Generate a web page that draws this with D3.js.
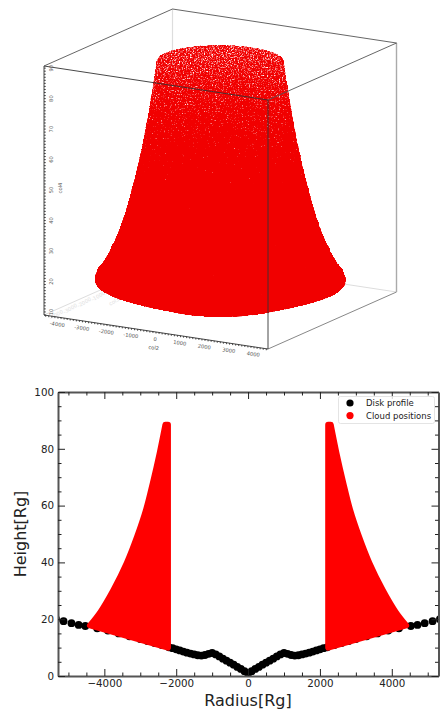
<!DOCTYPE html>
<html lang="en">
<head>
<meta charset="UTF-8">
<title>Disk profile and cloud positions</title>
<script src="https://d3js.org/d3.v7.min.js"></script>
<style>
    html, body { margin: 0; padding: 0; background: #fff; }
    svg { display: block; }
    text { font-family: "DejaVu Sans", sans-serif; }
</style>
</head>
<body>
<script>
// disk profile (drawn on both sides of 0)
var diskRadius = [0, 100, 200, 300, 400, 500, 600, 700, 800, 900, 1000, 1100, 1200, 1300, 1400, 1500, 1600, 1700, 1800, 1900, 2000, 2100, 2200, 2400, 2600, 2800, 3000, 3300, 3600, 3900, 4200, 4530, 4715, 4915, 5135, 5340];
var diskHeight = [1, 1.7, 2.5, 3.2, 4, 4.7, 5.4, 6.1, 6.9, 7.6, 8.1, 7.8, 7.4, 7.2, 7.3, 7.6, 7.9, 8.2, 8.6, 9, 9.4, 9.8, 10.1, 10.9, 11.6, 12.3, 13, 14, 15, 16, 16.8, 17.6, 18, 18.6, 19.3, 20];

// cloud lobe in the lower panel: straight inner edge, curved outer edge (marker centres)
var innerRadius = [2230, 2230];
var innerHeight = [10, 88.5];
var outerRadius = [2300, 2460, 2650, 2840, 3090, 3375, 3745, 4110, 4400];
var outerHeight = [88.5, 78.5, 68, 58.5, 49, 39.8, 30.3, 22.5, 17.8];

// cloud seen from the 3d view: outer edge and the lower edge
var topRadius = [2257, 2377, 2612, 2847, 3140, 3494, 3890, 4380, 4440];
var topHeight = [88.5, 81, 68, 57, 46, 35, 26.4, 18.8, 17.2];
var lowRadius = [4440, 4000, 3500, 3000, 2500];
var lowHeight = [16.5, 15, 13.5, 12, 10.5];

var col2Ticks = [-4000, -3000, -2000, -1000, 0, 1000, 2000, 3000, 4000];
var col3Ticks = [-4000, -3000, -2000, -1000];
var col4Ticks = [10, 20, 30, 40, 50, 60, 70, 80, 90];
var radiusTicks = [-4000, -2000, 0, 2000, 4000];
var heightTicks = [0, 20, 40, 60, 80, 100];
var legendLabels = ["Disk profile", "Cloud positions"];
var legendColors = ["#000000", "#ff0000"];

var w = 441, h = 711;
var svg = d3.select("body").append("svg").attr("width", w).attr("height", h);
var defs = svg.append("defs");

// ---------- top panel, 3d box ----------
var uScale = d3.scaleLinear().domain([-4570, 4570]).range([0, 1]);
var vScale = d3.scaleLinear().domain([-4570, 4570]).range([0, 1]);
var zScale = d3.scaleLinear().domain([9, 90.7]).range([0, 1]);

function project(x, y, z) {
    var u = uScale(x), v = vScale(y), t = zScale(z);
    return [44 + u * 224 + v * 128.5, 315 + u * 34 - v * 57 - t * 249];
}
function corner(i, j, k) {
    return project(i ? 4570 : -4570, j ? 4570 : -4570, k ? 90.7 : 9);
}
function edge(group, a, b, color, width) {
    group.append("line")
        .attr("x1", a[0]).attr("y1", a[1])
        .attr("x2", b[0]).attr("y2", b[1])
        .attr("stroke", color).attr("stroke-width", width);
}

var back = svg.append("g");
edge(back, corner(0, 0, 0), corner(0, 1, 0), "#dddddd", 1);
edge(back, corner(0, 1, 0), corner(1, 1, 0), "#dddddd", 1);
edge(back, corner(1, 0, 0), corner(1, 1, 0), "#888888", 1);
edge(back, corner(0, 1, 0), corner(0, 1, 1), "#dddddd", 1.2);
edge(back, corner(1, 1, 0), corner(1, 1, 1), "#aaaaaa", 1.4);

col3Ticks.forEach(function(d) {
    var p = project(-4570, d, 9);
    back.append("text").attr("transform", "translate(" + (p[0] + 5) + "," + (p[1] + 5) + ") rotate(-30)")
        .attr("font-size", 5.2).attr("fill", "#dedede").attr("text-anchor", "middle").text(d);
});
back.append("text").attr("transform", "translate(115,303) rotate(-30)")
    .attr("font-size", 5.2).attr("fill", "#dedede").attr("text-anchor", "middle").text("col3");

// density of the cloud falls with height, so the top of it looks speckled
var fade = defs.append("linearGradient").attr("id", "fade")
    .attr("gradientUnits", "userSpaceOnUse").attr("x1", 0).attr("x2", 0).attr("y1", 40).attr("y2", 200);
[[0, "#929292"], [0.15, "#9e9e9e"], [0.4, "#b8b8b8"], [0.65, "#d4d4d4"], [1, "#ffffff"]].forEach(function(s) {
    fade.append("stop").attr("offset", s[0]).attr("stop-color", s[1]);
});
defs.append("mask").attr("id", "fadeMask").attr("maskUnits", "userSpaceOnUse")
    .attr("x", 0).attr("y", 0).attr("width", w).attr("height", 380)
    .append("rect").attr("width", w).attr("height", 380).attr("fill", "url(#fade)");

var grain = defs.append("filter").attr("id", "grain").attr("filterUnits", "userSpaceOnUse")
    .attr("x", 0).attr("y", 0).attr("width", w).attr("height", 380)
    .attr("color-interpolation-filters", "sRGB");
grain.append("feTurbulence").attr("type", "fractalNoise").attr("baseFrequency", 0.73).attr("numOctaves", 3).attr("seed", 4).attr("result", "noise");
grain.append("feColorMatrix").attr("in", "noise").attr("type", "matrix")
    .attr("values", "0 0 0 0 0  0 0 0 0 0  0 0 0 0 0  1 0 0 0 0").attr("result", "noiseA");
grain.append("feComposite").attr("in", "SourceAlpha").attr("in2", "noiseA").attr("operator", "arithmetic")
    .attr("k1", 0).attr("k2", 3.2).attr("k3", 3.2).attr("k4", -2.6).attr("result", "speckle");
// keep the speckle inside the shape
var gate = grain.append("feComponentTransfer").attr("in", "SourceAlpha").attr("result", "gate");
gate.append("feFuncA").attr("type", "linear").attr("slope", 3);
grain.append("feComposite").attr("in", "speckle").attr("in2", "gate").attr("operator", "in").attr("result", "mask");
grain.append("feFlood").attr("flood-color", "#f10000").attr("result", "red");
grain.append("feComposite").attr("in", "red").attr("in2", "mask").attr("operator", "in");

var angles = d3.range(0, 361, 6).map(function(a) { return a * Math.PI / 180; });
function ellipse(r, z) {
    return angles.map(function(a) { return project(r * Math.cos(a), r * Math.sin(a), z); });
}
function tangent(r, z, sign) {
    // widest point of the projected circle
    var ax = 224 / 9140, bx = 128.5 / 9140, n = Math.sqrt(ax * ax + bx * bx);
    return project(sign * r * ax / n, sign * r * bx / n, z);
}

var cloud3d = svg.append("g").attr("filter", "url(#grain)")
    .append("g").attr("mask", "url(#fadeMask)");
var ringLine = d3.line();
var sideLine = d3.line().curve(d3.curveCatmullRom);

var hull = topRadius.map(function(r, i) { return tangent(r, topHeight[i], -1); });
var hullBack = topRadius.map(function(r, i) { return tangent(r, topHeight[i], 1); }).reverse();
cloud3d.append("path").attr("d", sideLine(hull) + "L" + hullBack[0].join(",") + sideLine(hullBack).slice(1) + "Z").attr("fill", "#fff");

cloud3d.selectAll("path.ring")
    .data(topRadius.map(function(r, i) { return [r, topHeight[i]]; })
        .concat(lowRadius.map(function(r, i) { return [r, lowHeight[i]]; })))
    .enter().append("path").attr("class", "ring")
    .attr("d", function(d) { return ringLine(ellipse(d[0], d[1])) + "Z"; })
    .attr("fill", "#fff");

var front = svg.append("g");
edge(front, corner(0, 0, 1), corner(1, 0, 1), "#333333", 0.9);
edge(front, corner(1, 0, 1), corner(1, 1, 1), "#555555", 0.9);
edge(front, corner(0, 0, 1), corner(0, 1, 1), "#555555", 0.9);
edge(front, corner(0, 1, 1), corner(1, 1, 1), "#555555", 0.9);
edge(front, corner(1, 0, 1), corner(1, 0, 0), "#333333", 0.9);
edge(front, corner(0, 0, 0), corner(1, 0, 0), "#333333", 0.9);
edge(front, corner(0, 0, 0), corner(0, 0, 1), "#333333", 0.9);

// dotted ticks on the two drawn axes
d3.range(-4500, 4501, 125).forEach(function(d) {
    var p = project(d, -4570, 9);
    edge(front, p, [p[0], p[1] + 1.5], "#222222", 0.8);
});
d3.range(9, 91).forEach(function(d) {
    var p = project(-4570, -4570, d);
    edge(front, p, [p[0] + 1.8, p[1]], "#222222", 0.8);
});

col2Ticks.forEach(function(d) {
    var p = project(d, -4570, 9);
    front.append("text").attr("transform", "translate(" + (p[0] - 1) + "," + (p[1] + 9) + ") rotate(8)")
        .attr("font-size", 5.2).attr("fill", "#555").attr("text-anchor", "middle").text(d);
});
col4Ticks.forEach(function(d) {
    var p = project(-4570, -4570, d);
    front.append("text").attr("transform", "translate(" + (p[0] + 9) + "," + p[1] + ") rotate(-90)")
        .attr("font-size", 5.2).attr("fill", "#555").attr("text-anchor", "middle").text(d);
});
front.append("text").attr("x", 153.5).attr("y", 349.5).attr("transform", "rotate(5 153.5 349.5)")
    .attr("font-size", 5.2).attr("fill", "#555").attr("text-anchor", "middle").text("col2");
front.append("text").attr("transform", "translate(62,188) rotate(-90)")
    .attr("font-size", 5.2).attr("fill", "#555").attr("text-anchor", "middle").text("col4");

// ---------- bottom panel ----------
var margin = { left: 58, right: 438.5, top: 392, bottom: 676 };
var x = d3.scaleLinear().domain([-5290, 5300]).range([margin.left, margin.right]);
var y = d3.scaleLinear().domain([0, 100]).range([margin.bottom, margin.top]);

defs.append("clipPath").attr("id", "plotClip").append("rect")
    .attr("x", margin.left).attr("y", margin.top)
    .attr("width", margin.right - margin.left).attr("height", margin.bottom - margin.top);

var plot = svg.append("g").attr("clip-path", "url(#plotClip)");

[-1, 1].forEach(function(side) {
    plot.append("g").selectAll("circle")
        .data(diskRadius)
        .enter().append("circle")
        .attr("cx", function(d) { return x(side * d); })
        .attr("cy", function(d, i) { return y(diskHeight[i]); })
        .attr("r", 3.9)
        .attr("fill", legendColors[0]);
});

[-1, 1].forEach(function(side) {
    var inner = innerRadius.map(function(r, i) { return [x(side * r), y(innerHeight[i])]; });
    var outer = outerRadius.map(function(r, i) { return [x(side * r), y(outerHeight[i])]; });
    plot.append("path")
        .attr("d", d3.line()(inner) + "L" + sideLine(outer).slice(1) + "Z")
        .attr("fill", legendColors[1])
        .attr("stroke", legendColors[1])
        .attr("stroke-width", 6)
        .attr("stroke-linejoin", "round");
});

var minorX = d3.range(-5000, 5001, 500).filter(function(d) { return d % 2000 !== 0; });
var minorY = d3.range(0, 101, 5).filter(function(d) { return d % 20 !== 0; });

function styleAxis(g) {
    g.select(".domain").attr("stroke", "#555").attr("stroke-width", 2);
    g.selectAll(".tick line").attr("stroke", "#222").attr("stroke-width", 1);
    g.selectAll("text").attr("font-family", "DejaVu Sans").attr("font-size", 10.3).attr("fill", "#222");
}
function addAxis(axis, tx, ty, major, minor, labels) {
    var g = svg.append("g").attr("transform", "translate(" + tx + "," + ty + ")");
    g.call(axis.tickValues(major).tickSizeOuter(0).tickSizeInner(-7).tickPadding(4)
        .tickFormat(labels ? d3.format("") : ""));
    styleAxis(g);
    var m = svg.append("g").attr("transform", "translate(" + tx + "," + ty + ")");
    m.call(axis.tickValues(minor).tickSizeOuter(0).tickSizeInner(-3.5).tickFormat(""));
    m.select(".domain").remove();
    m.selectAll(".tick line").attr("stroke", "#222").attr("stroke-width", 1);
}

addAxis(d3.axisBottom(x), 0, margin.bottom, radiusTicks, minorX, true);
addAxis(d3.axisTop(x), 0, margin.top, radiusTicks, minorX, false);
addAxis(d3.axisLeft(y), margin.left, 0, heightTicks, minorY, true);
addAxis(d3.axisRight(y), margin.right, 0, heightTicks, minorY, false);

svg.append("text").attr("x", 248).attr("y", 706)
    .attr("text-anchor", "middle").attr("font-size", 16).attr("fill", "#222").text("Radius[Rg]");
svg.append("text").attr("transform", "translate(26,534) rotate(-90)")
    .attr("text-anchor", "middle").attr("font-size", 16).attr("fill", "#222").text("Height[Rg]");

var legend = svg.append("g");
legend.append("rect").attr("x", 338.5).attr("y", 396.5).attr("width", 96).attr("height", 27).attr("rx", 2)
    .attr("fill", "#fff").attr("fill-opacity", 0.8).attr("stroke", "#ddd").attr("stroke-width", 0.8);
legendLabels.forEach(function(label, i) {
    legend.append("circle").attr("cx", 350).attr("cy", 403 + i * 12.6).attr("r", 3.6).attr("fill", legendColors[i]);
    legend.append("text").attr("x", 366).attr("y", 406 + i * 12.6).attr("font-size", 8.5).attr("fill", "#222").text(label);
});
</script>
</body>
</html>
